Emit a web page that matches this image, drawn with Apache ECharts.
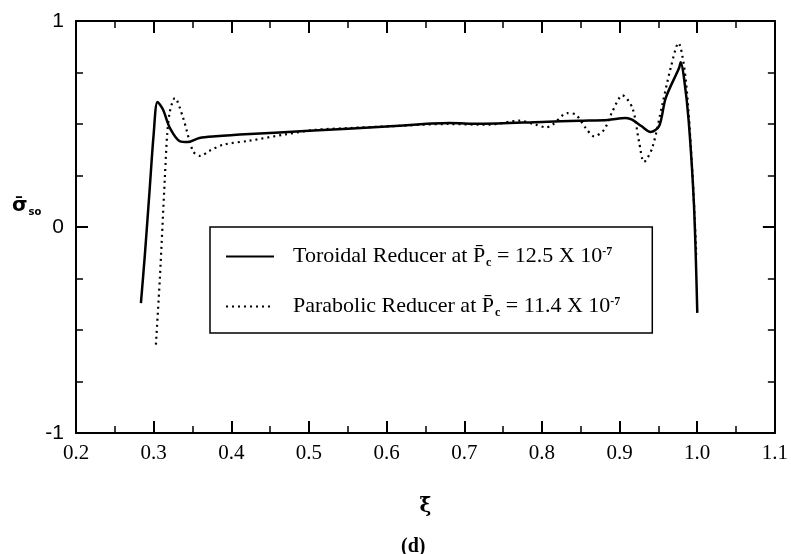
<!DOCTYPE html>
<html>
<head>
<meta charset="utf-8">
<script src="https://cdn.jsdelivr.net/npm/echarts@6/dist/echarts.min.js"></script>
<style>html,body{margin:0;padding:0;background:#fff}#c{width:791px;height:554px}</style>
</head>
<body>
<div id="c"></div>
<script>
const xTicks = [0.2, 0.3, 0.4, 0.5, 0.6, 0.7, 0.8, 0.9, 1.0, 1.1];
const yTicks = [-1, 0, 1];

const toroidalXi = [0.2836, 0.2887, 0.295, 0.300, 0.305, 0.312, 0.321, 0.334, 0.344, 0.359, 0.38, 0.424, 0.5, 0.6, 0.681, 0.72, 0.8, 0.848, 0.885, 0.908, 0.916, 0.928, 0.940, 0.951, 0.9594, 0.9766, 0.9787, 0.983, 0.989, 0.9958, 1.0001];
const toroidalSigma = [-0.37, -0.134, 0.19, 0.45, 0.607, 0.57, 0.48, 0.416, 0.413, 0.432, 0.44, 0.451, 0.467, 0.488, 0.505, 0.501, 0.51, 0.516, 0.52, 0.529, 0.521, 0.49, 0.461, 0.49, 0.626, 0.772, 0.80, 0.723, 0.515, 0.108, -0.417];

const parabolicXi = [0.3029, 0.308, 0.3144, 0.3174, 0.3209, 0.3273, 0.338, 0.3508, 0.36, 0.372, 0.39, 0.4237, 0.47, 0.5094, 0.55, 0.6, 0.68, 0.719, 0.732, 0.771, 0.792, 0.805, 0.8137, 0.833, 0.8437, 0.8566, 0.8673, 0.880, 0.8908, 0.9037, 0.9165, 0.925, 0.9315, 0.942, 0.955, 0.9658, 0.9757, 0.985, 0.9937, 0.9988];
const parabolicSigma = [-0.571, -0.248, 0.238, 0.448, 0.561, 0.626, 0.529, 0.367, 0.345, 0.37, 0.40, 0.419, 0.45, 0.472, 0.48, 0.488, 0.50, 0.497, 0.497, 0.516, 0.497, 0.484, 0.497, 0.553, 0.545, 0.48, 0.44, 0.472, 0.561, 0.639, 0.578, 0.416, 0.316, 0.383, 0.594, 0.772, 0.893, 0.723, 0.27, -0.134];

const seriesNames = ['Toroidal', 'Parabolic'];
const legendTexts = {
  Toroidal: ['Toroidal Reducer at ', '12.5'],
  Parabolic: ['Parabolic Reducer at ', '11.4']
};

const zip = (a, b) => a.map((v, i) => [v, b[i]]);
const SERIF = '"Liberation Serif", "Times New Roman", serif';

const chart = echarts.init(document.getElementById('c'), null, {renderer: 'canvas'});

const axisCommon = {
  axisLine: {show: true, onZero: false, lineStyle: {color: '#000', width: 2}},
  axisTick: {show: true, inside: true, length: 12, lineStyle: {color: '#000', width: 2}},
  minorTick: {show: true, length: 7, lineStyle: {color: '#000', width: 1.5}},
  splitLine: {show: false},
  minorSplitLine: {show: false}
};

chart.setOption({
  animation: false,
  backgroundColor: '#fff',
  grid: {left: 76, right: 15, top: 21, bottom: 121, containLabel: false},
  xAxis: [
    Object.assign({}, axisCommon, {
      type: 'value', min: xTicks[0], max: xTicks[xTicks.length - 1], interval: 0.1,
      minorTick: Object.assign({}, axisCommon.minorTick, {splitNumber: 2}),
      axisLabel: {color: '#000', fontFamily: SERIF, fontSize: 21, margin: 10,
        formatter: v => v.toFixed(1)},
      name: 'ξ\u0304', nameLocation: 'middle', nameGap: 64,
      nameTextStyle: {color: '#000', fontFamily: '"DejaVu Serif", serif', fontSize: 20, fontWeight: 'bold'}
    }),
    Object.assign({}, axisCommon, {
      type: 'value', position: 'top', min: xTicks[0], max: xTicks[xTicks.length - 1], interval: 0.1,
      minorTick: Object.assign({}, axisCommon.minorTick, {splitNumber: 2}),
      axisLabel: {show: false}
    })
  ],
  yAxis: [
    Object.assign({}, axisCommon, {
      type: 'value', min: yTicks[0], max: yTicks[yTicks.length - 1], interval: 1,
      minorTick: Object.assign({}, axisCommon.minorTick, {splitNumber: 4}),
      axisLabel: {color: '#000', fontFamily: '"Liberation Sans", Arial, sans-serif', fontSize: 21, margin: 12,
        formatter: v => String(v)}
    }),
    Object.assign({}, axisCommon, {
      type: 'value', position: 'right', min: yTicks[0], max: yTicks[yTicks.length - 1], interval: 1,
      minorTick: Object.assign({}, axisCommon.minorTick, {splitNumber: 4}),
      axisLabel: {show: false}
    })
  ],
  legend: {
    left: 210, top: 227, orient: 'vertical',
    data: seriesNames,
    borderColor: '#000', borderWidth: 1.5, borderRadius: 0,
    padding: [17, 32, 14, 15],
    itemWidth: 48, itemHeight: 14, itemGap: 25,
    selectedMode: false,
    itemStyle: {opacity: 0},
    textStyle: {
      color: '#000', fontFamily: SERIF, fontSize: 22,
      rich: {
        f: {fontFamily: SERIF, fontSize: 22, lineHeight: 22, color: '#000', padding: [0, 0, 0, 14]},
        t: {fontFamily: SERIF, fontSize: 22, lineHeight: 22, color: '#000'},
        p: {fontFamily: SERIF, fontSize: 22, lineHeight: 22, color: '#000'},
        sub: {fontFamily: SERIF, fontSize: 12, lineHeight: 22, color: '#000', fontWeight: 'bold', padding: [13, 0, 0, 1]},
        sup: {fontFamily: SERIF, fontSize: 12, lineHeight: 22, color: '#000', fontWeight: 'bold', padding: [0, 0, 10, 0]}
      }
    },
    formatter: name => {
      const t = legendTexts[name];
      return '{f|' + t[0] + '}{p|P\u0304}{sub|c}{t| = ' + t[1] + ' X 10}{sup|-7}';
    }
  },
  title: {
    text: '(d)', left: 396, top: 532,
    textStyle: {color: '#000', fontFamily: SERIF, fontSize: 20, fontWeight: 'bold'}
  },
  graphic: [{
    type: 'text', left: 12, top: 196,
    style: {
      text: '{s|σ\u0304}{b|so}',
      rich: {
        s: {fontFamily: '"DejaVu Sans", sans-serif', fontSize: 20, fill: '#000', fontWeight: 'bold'},
        b: {fontFamily: '"DejaVu Sans", sans-serif', fontSize: 10, fill: '#000', fontWeight: 'bold', padding: [12, 0, 0, 1]}
      }
    }
  }],
  series: [
    {
      name: seriesNames[0], type: 'line', xAxisIndex: 0, yAxisIndex: 0,
      data: zip(toroidalXi, toroidalSigma), showSymbol: false, symbol: 'none',
      smooth: 0.3, lineStyle: {color: '#000', width: 2.5, type: 'solid'},
      itemStyle: {color: '#000'}
    },
    {
      name: seriesNames[1], type: 'line', xAxisIndex: 0, yAxisIndex: 0,
      data: zip(parabolicXi, parabolicSigma), showSymbol: false, symbol: 'none',
      smooth: 0.3, lineStyle: {color: '#000', width: 2.2, type: [2, 4]},
      itemStyle: {color: '#000'}
    }
  ]
});
</script>
</body>
</html>
